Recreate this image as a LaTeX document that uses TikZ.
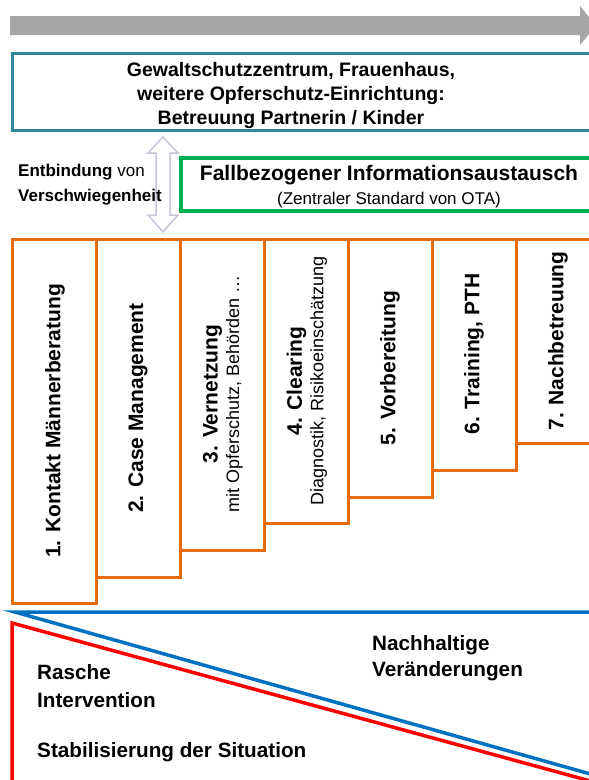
\documentclass[tikz,border=0pt]{standalone}
\usepackage{fontspec}
\setmainfont{Liberation Sans}
\definecolor{teal1}{HTML}{31859C}
\definecolor{orng}{HTML}{E46C0A}
\definecolor{grn}{HTML}{00B050}
\definecolor{blu}{HTML}{0070C0}
\definecolor{rd}{HTML}{FF0000}
\definecolor{gry}{HTML}{A6A6A6}
\definecolor{lav}{HTML}{CCC1DA}
\tikzset{
  stepbox/.style={draw=orng, line width=3pt},
  steptxt/.style={rotate=90, align=center, inner sep=0pt},
  bigb/.style={font=\fontsize{21}{26}\selectfont\bfseries},
  lbl/.style={anchor=west, inner sep=0pt, font=\fontsize{20.7}{24}\selectfont\bfseries},
}
\begin{document}
\begin{tikzpicture}[x=1pt, y=-1pt]
\useasboundingbox (0,0) rectangle (589,780);
% gray arrow
\fill[gry] (10,16) -- (580,16) -- (580,6) -- (596,25.5) -- (580,45) -- (580,35) -- (10,35) -- cycle;
% top teal box
\draw[teal1, line width=3pt] (12,53) rectangle (592,130);
\node[align=center, font=\fontsize{19.5}{24}\selectfont\bfseries] (top) at (291,95)
  {Gewaltschutzzentrum, Frauenhaus,\\weitere Opferschutz-Einrichtung:\\Betreuung Partnerin / Kinder};
% double arrow
\draw[lav, line width=1.5pt, fill=white] (163,137) -- (178,153) -- (170,153) -- (170,215) -- (178,215) -- (163,232)
  -- (148,215) -- (156,215) -- (156,153) -- (148,153) -- cycle;
% green box
\draw[grn, line width=3.5pt] (181,158) rectangle (594,211);
\node[font=\fontsize{21}{25}\selectfont\bfseries] (fall) at (389,175) {Fallbezogener Informationsaustausch};
\node[font=\fontsize{17}{20}\selectfont] (ota) at (389,200) {(Zentraler Standard von OTA)};
\node[anchor=west, inner sep=0pt, font=\fontsize{17}{20}\selectfont] (entb) at (18,172) {\textbf{Entbindung} von};
\node[anchor=west, inner sep=0pt, font=\fontsize{17}{20}\selectfont\bfseries] (versch) at (18,197) {Verschwiegenheit};
% steps
\draw[stepbox] (12,239) rectangle (96,603);
\draw[stepbox] (96,239) rectangle (180,577);
\draw[stepbox] (180,239) rectangle (264,550);
\draw[stepbox] (264,239) rectangle (348,523);
\draw[stepbox] (348,239) rectangle (432,497);
\draw[stepbox] (432,239) rectangle (516,470);
\draw[stepbox] (516,239) rectangle (600,443);
\node[steptxt, bigb] (s1) at (55,421) {1. Kontakt Männerberatung};
\node[steptxt, bigb] (s2) at (138,408) {2. Case Management};
\node[steptxt] (s3) at (223,394) {{\fontsize{21}{26}\selectfont\bfseries 3. Vernetzung}\\[3pt]{\fontsize{18}{22}\selectfont mit Opferschutz, Behörden \dots}};
\node[steptxt] (s4) at (307,381) {{\fontsize{21}{26}\selectfont\bfseries 4. Clearing}\\[3pt]{\fontsize{18}{22}\selectfont Diagnostik, Risikoeinschätzung}};
\node[steptxt, bigb] (s5) at (390,368) {5. Vorbereitung};
\node[steptxt, bigb] (s6) at (474,354) {6. Training, PTH};
\node[steptxt, bigb] (s7) at (558,341) {7. Nachbetreuung};
% bottom lines
\draw[blu, line width=3.5pt, line cap=round] (594,612) -- (15,612) -- (594,775);
\draw[rd, line width=3.5pt] (12,782) -- (12,623) -- (594,782);
\node[lbl] (nach1) at (372,645) {Nachhaltige};
\node[lbl] (nach2) at (372,671) {Veränderungen};
\node[lbl] (ras1) at (37,672) {Rasche};
\node[lbl] (ras2) at (37,700) {Intervention};
\node[lbl] (stab) at (37,752) {Stabilisierung der Situation};
\end{tikzpicture}
\end{document}
